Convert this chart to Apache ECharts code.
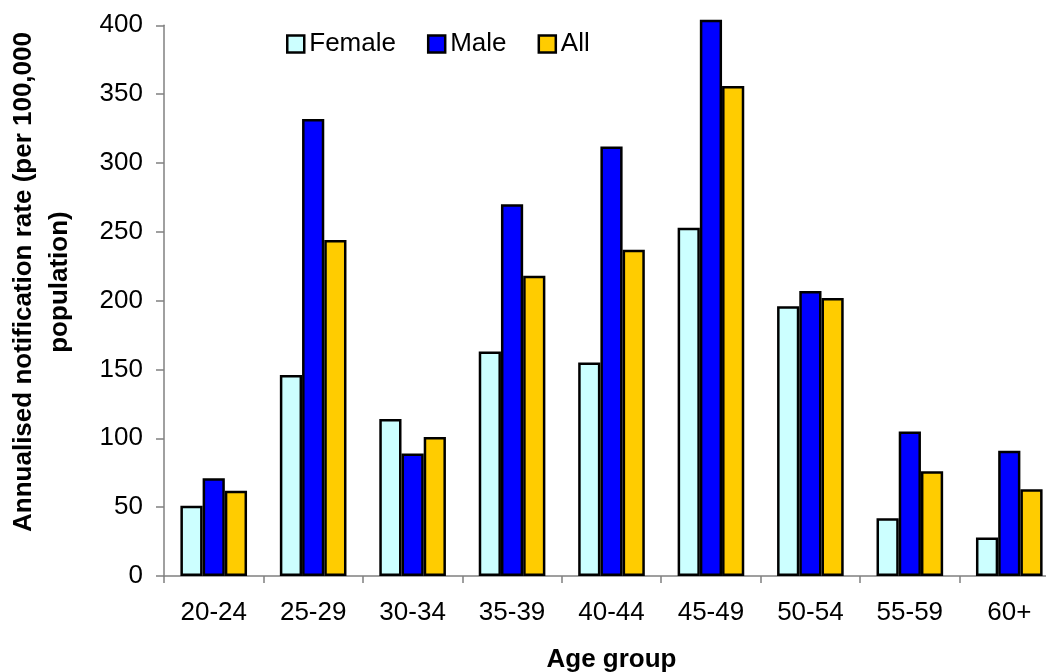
<!DOCTYPE html>
<html>
<head>
<meta charset="utf-8">
<script src="https://cdn.jsdelivr.net/npm/echarts@6/dist/echarts.min.js"></script>
<style>
html,body{margin:0;padding:0;background:#fff;}
#chart{width:1046px;height:672px;}
</style>
</head>
<body>
<div id="chart"></div>
<script>
const categories = ['20-24','25-29','30-34','35-39','40-44','45-49','50-54','55-59','60+'];
const female = [51, 146, 114, 163, 155, 253, 196, 42, 28];
const male = [71, 332, 89, 270, 312, 404, 207, 105, 91];
const all = [62, 244, 101, 218, 237, 356, 202, 76, 63];
const seriesNames = ['Female', 'Male', 'All'];
const yTitle = 'Annualised notification rate (per 100,000\npopulation)';
const xTitle = 'Age group';

const FONT = "'Liberation Sans', Arial, sans-serif";
const chart = echarts.init(document.getElementById('chart'));
const mk = (name, data, color) => ({
  name, type: 'bar', data, clip: false,
  barGap: '0%', barCategoryGap: '33%',
  itemStyle: { color, borderColor: '#000', borderWidth: 2.5 },
  emphasis: { disabled: true }
});
chart.setOption({
  animation: false,
  backgroundColor: '#fff',
  grid: { left: 164, top: 25.3, width: 895, height: 550.7, containLabel: false, outerBoundsMode: 'none' },
  legend: {
    data: seriesNames, left: 281, top: 26,
    itemWidth: 17, itemHeight: 17, itemGap: 31,
    icon: 'rect',
    itemStyle: { borderColor: '#000', borderWidth: 2.5 },
    textStyle: { fontFamily: FONT, fontSize: 26, color: '#000' }
  },
  xAxis: {
    type: 'category', data: categories,
    axisLine: { lineStyle: { color: '#808080', width: 1.5 } },
    axisTick: { show: true, length: 7, lineStyle: { color: '#808080', width: 1.5 } },
    axisLabel: { fontFamily: FONT, fontSize: 26, color: '#000', margin: 24 },
    name: xTitle, nameLocation: 'middle', nameGap: 71,
    nameTextStyle: { fontFamily: FONT, fontSize: 26, fontWeight: 'bold', color: '#000' }
  },
  yAxis: {
    type: 'value', min: 0, max: 400, interval: 50,
    axisLine: { show: true, lineStyle: { color: '#808080', width: 1.5 } },
    axisTick: { show: true, length: 8, lineStyle: { color: '#808080', width: 1.5 } },
    axisLabel: { fontFamily: FONT, fontSize: 26, color: '#000', margin: 21 },
    splitLine: { show: false }
  },
  graphic: [{
    type: 'text', x: 42, y: 282, rotation: Math.PI / 2,
    style: {
      text: yTitle, fontFamily: FONT, fontSize: 26, fontWeight: 'bold',
      fill: '#000', align: 'center', verticalAlign: 'middle', lineHeight: 36
    }
  }],
  series: [
    mk(seriesNames[0], female, '#CCFFFF'),
    mk(seriesNames[1], male, '#0000FF'),
    mk(seriesNames[2], all, '#FFCC00')
  ]
});
</script>
</body>
</html>
